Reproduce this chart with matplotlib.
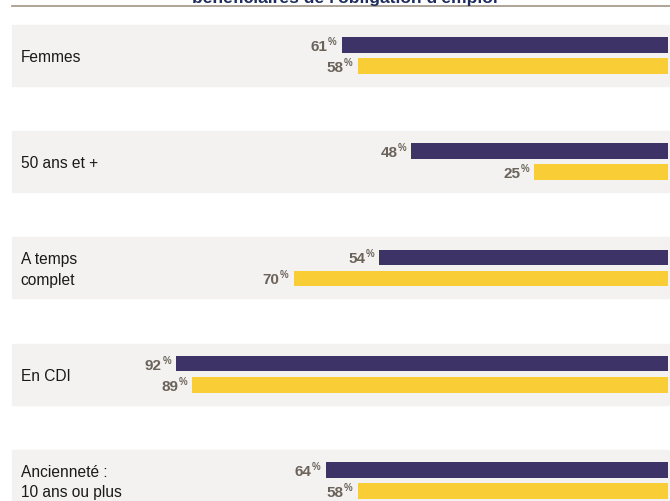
import matplotlib.pyplot as plt
from matplotlib.lines import Line2D

categories = ["Femmes", "50 ans et +", "A temps\ncomplet", "En CDI", "Ancienneté :\n10 ans ou plus"]
serie_a = [61, 48, 54, 92, 64]   # violet
serie_b = [58, 25, 70, 89, 58]   # jaune
title = "bénéficiaires de l'obligation d'emploi"

VIOLET = "#3d3367"
JAUNE = "#f9cd35"
BANDE = "#f3f2f1"
GRIS_TXT = "#6b635a"

plt.rcParams['font.family'] = ['Liberation Sans', 'DejaVu Sans']

fig = plt.figure(figsize=(6.70, 5.01), dpi=100)
ax = fig.add_axes([0, 0, 1, 1])
ax.set_xlim(124.9, -0.37)
ax.set_ylim(4.193, -0.522)
ax.axis("off")

h = 0.146
off = 0.099
for i, cat in enumerate(categories):
    ax.axhspan(i - 0.287, i + 0.287, xmin=0.018, xmax=1, color=BANDE, zorder=0)
    ax.text(0.031, i + 0.02, cat, transform=ax.get_yaxis_transform(), ha="left", va="center",
            fontsize=11.2, color="#1a1a1a", linespacing=1.45)
    for v, y, col in ((serie_a[i], i - off, VIOLET), (serie_b[i], i + off, JAUNE)):
        ax.barh(y, v, height=h, color=col, zorder=2)
        ax.annotate(f"{v}", xy=(v, y), xytext=(-14, -2), textcoords="offset pixels",
                    ha="right", va="center", fontsize=11, fontweight="bold", color=GRIS_TXT)
        ax.annotate("%", xy=(v, y), xytext=(-5, 3), textcoords="offset pixels",
                    ha="right", va="center", fontsize=7, fontweight="bold", color=GRIS_TXT)

fig.add_artist(Line2D([12 / 670, 1], [1 - 5.7 / 501] * 2, transform=fig.transFigure,
                      color="#a89c8f", lw=1.3, zorder=1))
fig.text(345 / 670, 1 - 2.5 / 501, title, ha="center", va="baseline", fontsize=12.6,
         fontweight="bold", color="#1f2d5c", zorder=3)

fig.savefig("out.png", dpi=100)
